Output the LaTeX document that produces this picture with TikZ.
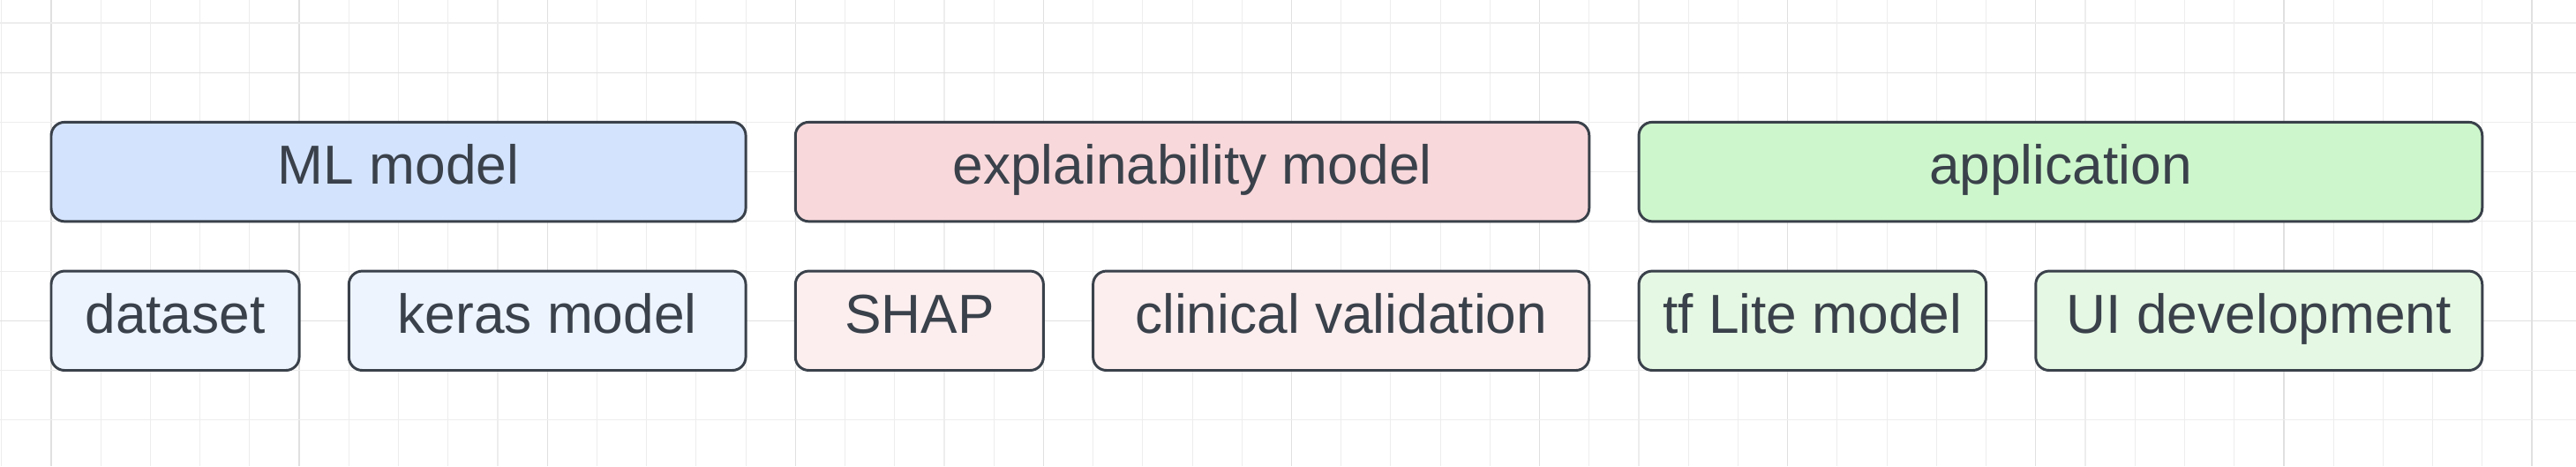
\documentclass[tikz,border=0pt]{standalone}
\usepackage{fontspec}
\setmainfont{Liberation Sans}
\definecolor{ink}{HTML}{3A414A}
\definecolor{gridminor}{HTML}{EDEDED}
\definecolor{gridmajor}{HTML}{E0E0E0}
\definecolor{blueA}{HTML}{D3E3FD}
\definecolor{blueB}{HTML}{EDF4FE}
\definecolor{redA}{HTML}{F8D8DB}
\definecolor{redB}{HTML}{FCEEEF}
\definecolor{greenA}{HTML}{CDF6CC}
\definecolor{greenB}{HTML}{E5F8E3}
\tikzset{
  box/.style={draw=ink, line width=1.5pt, rounded corners=0.27cm},
  lbl/.style={text=ink, font=\fontsize{31.5}{36}\selectfont, anchor=base, inner sep=0pt},
  gminor/.style={gridminor, line width=0.55pt},
  gmajor/.style={gridmajor, line width=0.65pt},
}
\begin{document}
\begin{tikzpicture}[x=1cm,y=1cm]
\useasboundingbox (-1.0317,-2.930) rectangle (50.890,6.462);
\fill[white] (-1.0317,-2.930) rectangle (50.890,6.462);
% grid
\foreach \i in {-1,...,50}{
  \pgfmathtruncatemacro{\m}{mod(\i+100,5)}
  \ifnum\m=0
    \draw[gmajor] (\i,-2.930) -- (\i,6.462);
  \else
    \draw[gminor] (\i,-2.930) -- (\i,6.462);
  \fi
}
\foreach \j in {-2,...,6}{
  \pgfmathtruncatemacro{\m}{mod(\j+100,5)}
  \ifnum\m=0
    \draw[gmajor] (-1.0317,\j) -- (50.890,\j);
  \else
    \draw[gminor] (-1.0317,\j) -- (50.890,\j);
  \fi
}
% top row
\path[box, fill=blueA] (0,2) rectangle (14,4);
\node[lbl] (ml) at (7,2.75) {ML model};
\path[box, fill=redA] (15,2) rectangle (31,4);
\node[lbl] (expl) at (23,2.75) {explainability model};
\path[box, fill=greenA] (32,2) rectangle (49,4);
\node[lbl] (app) at (40.5,2.75) {application};
% bottom row
\path[box, fill=blueB] (0,-1) rectangle (5,1);
\node[lbl] (ds) at (2.5,-0.25) {dataset};
\path[box, fill=blueB] (6,-1) rectangle (14,1);
\node[lbl] (keras) at (10,-0.25) {keras model};
\path[box, fill=redB] (15,-1) rectangle (20,1);
\node[lbl] (shap) at (17.5,-0.25) {SHAP};
\path[box, fill=redB] (21,-1) rectangle (31,1);
\node[lbl] (clin) at (26,-0.25) {clinical validation};
\path[box, fill=greenB] (32,-1) rectangle (39,1);
\node[lbl] (tfl) at (35.5,-0.25) {tf Lite model};
\path[box, fill=greenB] (40,-1) rectangle (49,1);
\node[lbl] (ui) at (44.5,-0.25) {UI development};
\end{tikzpicture}
\end{document}
